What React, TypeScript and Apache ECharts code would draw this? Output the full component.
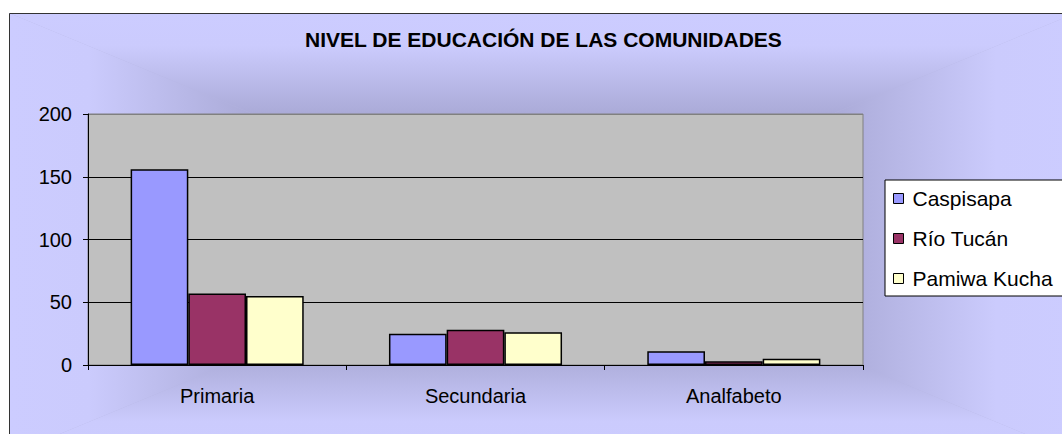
import React, { useEffect, useRef } from "react";
import * as echarts from "echarts";

const titleText = "NIVEL DE EDUCACIÓN DE LAS COMUNIDADES";
const categories = ["Primaria", "Secundaria", "Analfabeto"];
const seriesNames = ["Caspisapa", "Río Tucán", "Pamiwa Kucha"];
const caspisapa = [156, 25, 11];
const rioTucan = [57, 28, 3];
const pamiwaKucha = [55, 26, 5];
const seriesColors = ["#9999FF", "#993366", "#FFFFCC"];
const yTicks = { min: 0, max: 200, interval: 50 };

const FONT = "'Liberation Sans', Arial, sans-serif";

export default function App() {
  const ref = useRef<HTMLDivElement>(null);
  useEffect(() => {
    if (!ref.current) return;
    const chart = echarts.init(ref.current, undefined, { renderer: "svg" });
    const x0 = 9, y0 = 13, x1 = 1076, y1 = 455;
    const cx = (x0 + x1) / 2, cy = (y0 + y1) / 2;
    const edge = "#CCCCFF";
    const stops = [
      { offset: 0, color: edge },
      { offset: 0.15, color: "#CBCBFD" },
      { offset: 0.45, color: "#ABABD8" },
      { offset: 1, color: "#9292C2" },
    ];
    const grad = (x: number, y: number, x2: number, y2: number) =>
      new echarts.graphic.LinearGradient(x, y, x2, y2, stops);
    const allSeries = [caspisapa, rioTucan, pamiwaKucha].map((d, i) => ({
      name: seriesNames[i],
      type: "bar",
      data: d,
      barGap: "0%",
      barCategoryGap: "33%",
      itemStyle: { color: seriesColors[i], borderColor: "#000", borderWidth: 1.5 },
    }));
    chart.setOption({
      animation: false,
      backgroundColor: "#FFFFFF",
      textStyle: { fontFamily: FONT },
      graphic: [
        {
          type: "rect",
          z: -20,
          shape: { x: x0, y: y0, width: x1 - x0, height: y1 - y0 },
          style: { fill: "#B5B5E2" },
          silent: true,
        },
        {
          type: "polygon",
          z: -19,
          shape: { points: [[x0, y0], [x1, y0], [cx, cy]] },
          style: { fill: grad(0, 0, 0, 1) },
          silent: true,
        },
        {
          type: "polygon",
          z: -19,
          shape: { points: [[x0, y1], [x1, y1], [cx, cy]] },
          style: { fill: grad(0, 1, 0, 0) },
          silent: true,
        },
        {
          type: "polygon",
          z: -19,
          shape: { points: [[x0, y0], [x0, y1], [cx, cy]] },
          style: { fill: grad(0, 0, 1, 0) },
          silent: true,
        },
        {
          type: "polygon",
          z: -19,
          shape: { points: [[x1, y0], [x1, y1], [cx, cy]] },
          style: { fill: grad(1, 0, 0, 0) },
          silent: true,
        },
        {
          type: "rect",
          z: -18,
          shape: { x: x0 + 0.5, y: y0 + 0.5, width: x1 - x0, height: y1 - y0 },
          style: { fill: "none", stroke: "#333333", lineWidth: 1 },
          silent: true,
        },
      ],
      title: {
        text: titleText,
        left: 305,
        top: 29,
        padding: 0,
        textStyle: { fontFamily: FONT, fontSize: 21, fontWeight: "bold", color: "#000" },
      },
      legend: {
        orient: "vertical",
        left: 885,
        top: 180,
        padding: [8, 60, 7, 8],
        itemGap: 19,
        itemWidth: 10,
        itemHeight: 10,
        icon: "rect",
        selectedMode: false,
        backgroundColor: "#FFFFFF",
        borderColor: "#000000",
        borderWidth: 1,
        itemStyle: { borderColor: "#000", borderWidth: 1 },
        textStyle: { fontFamily: FONT, fontSize: 21, color: "#000", padding: [0, 0, 0, 4] },
        data: seriesNames,
      },
      grid: {
        left: 88,
        top: 114,
        right: 199,
        bottom: 69,
        show: true,
        backgroundColor: "#C0C0C0",
        borderColor: "#808080",
        borderWidth: 1,
      },
      xAxis: {
        type: "category",
        data: categories,
        axisLine: { show: true, lineStyle: { color: "#000", width: 1 } },
        axisTick: { show: true, length: 5, lineStyle: { color: "#000" } },
        axisLabel: { fontFamily: FONT, fontSize: 20, color: "#000", margin: 21 },
        splitLine: { show: false },
      },
      yAxis: {
        type: "value",
        min: yTicks.min,
        max: yTicks.max,
        interval: yTicks.interval,
        axisLine: { show: true, lineStyle: { color: "#000", width: 1 } },
        axisTick: { show: true, length: 5, lineStyle: { color: "#000" } },
        axisLabel: { fontFamily: FONT, fontSize: 20, color: "#000", margin: 16 },
        splitLine: {
          show: true,
          lineStyle: { color: ["#000", "#000", "#000", "#000", "#808080"], width: 1 },
        },
      },
      series: allSeries,
    });
    return () => chart.dispose();
  }, []);
  return (
    <div
      ref={ref}
      style={{ position: "fixed", left: 0, top: 0, width: 1062, height: 434 }}
    />
  );
}
